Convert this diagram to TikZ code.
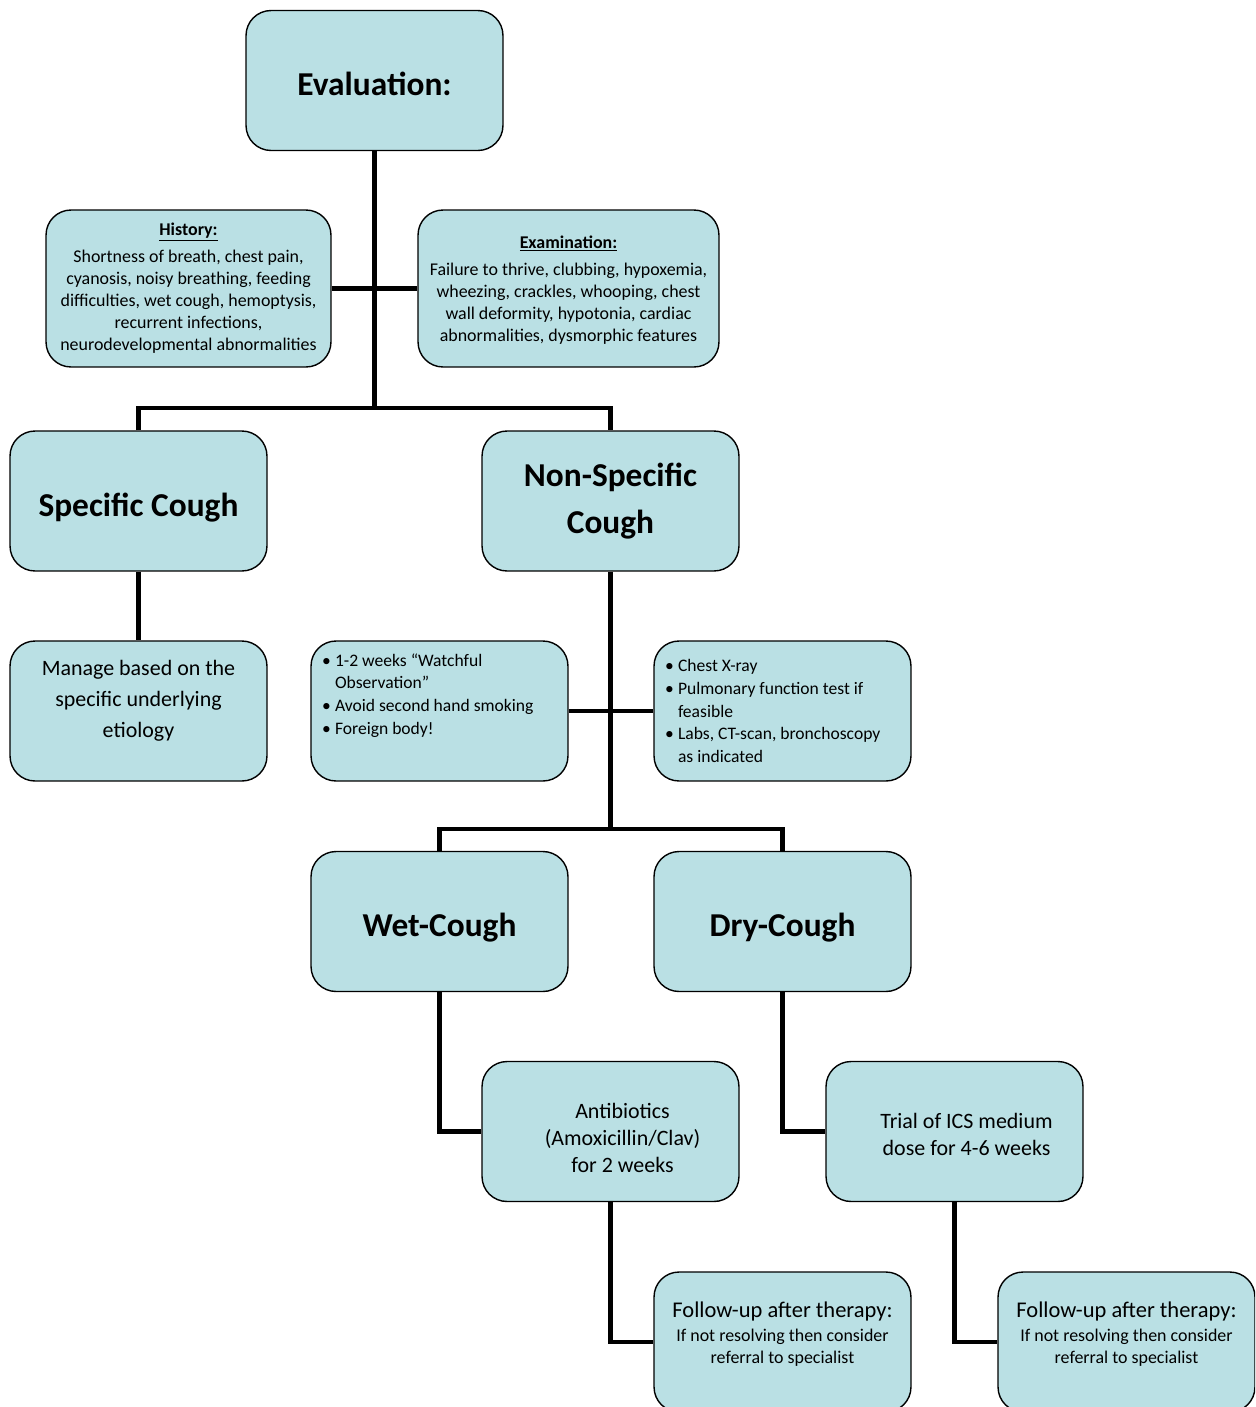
\documentclass[tikz,border=0pt]{standalone}
\usepackage{fontspec}
\setmainfont{Carlito}
\definecolor{boxfill}{RGB}{186,224,228}
\tikzstyle{box}=[draw,rounded corners=0.5cm,fill=boxfill,line width=0.8pt,minimum width=5.14cm,minimum height=2.8cm,align=center,inner sep=0pt]
\tikzstyle{wire}=[line width=2.3pt]
\tikzstyle{bigtext}=[font=\fontsize{19}{26.7}\selectfont\bfseries]
\tikzstyle{titletext}=[bigtext,text height=17.2pt,text depth=0pt]
\tikzstyle{midtext}=[font=\fontsize{12.5}{15.4}\selectfont,text width=4.9cm,align=flush center]
\tikzstyle{smalltext}=[font=\fontsize{10.2}{12.5}\selectfont]
\tikzstyle{listbox}=[box,text width=4.7cm,align=flush left,font=\fontsize{10}{12.9}\selectfont]
\newcommand{\bitem}{\noindent\hangindent=7.4pt\hangafter=1\makebox[7.4pt][l]{\textbullet}}
\newcommand{\pad}{\hspace*{13.7pt}}

\begin{document}
\begin{tikzpicture}[x=0.02cm,y=-0.02cm]
\useasboundingbox (0,0) rectangle (1255,1407);
\clip (0,0) rectangle (1255,1407);

\node[box,titletext] (eval) at (374.5,80.5) {Evaluation:};
\node[box,smalltext,minimum width=5.7cm,minimum height=3.14cm,text width=5.6cm,align=flush center,text height=0pt,text depth=60.9pt] (hist) at (188.5,288.5)
{\underline{\textbf{History:}}\\[3pt] Shortness of breath, chest pain,\\ cyanosis, noisy breathing, feeding\\
difficulties, wet cough, hemoptysis,\\ recurrent infections,\\ neurodevelopmental abnormalities};
\node[box,smalltext,minimum width=6.02cm,minimum height=3.14cm,text width=5.9cm,align=flush center,text height=0pt,text depth=46pt] (exam) at (568.5,288.5)
{\underline{\textbf{Examination:}}\\[3pt] Failure to thrive, clubbing, hypoxemia,\\ wheezing, crackles, whooping, chest\\
wall deformity, hypotonia, cardiac\\ abnormalities, dysmorphic features};

\node[box,titletext] (spec) at (138.5,501) {Specific Cough};
\node[box,bigtext] (nonspec) at (610.5,501) {Non-Specific\\Cough};

\node[box,midtext,font=\fontsize{12.5}{17.6}\selectfont,text height=0pt,text depth=40pt] (manage) at (138.5,711)
{Manage based on the\\ specific underlying\\ etiology};
\node[listbox,text height=0pt,text depth=51.2pt] (watch) at (439.5,711)
{\bitem 1-2 weeks “Watchful\newline Observation”\par \bitem Avoid second hand smoking\par \bitem Foreign body!\par};
\node[listbox] (tests) at (782.5,711)
{\bitem Chest X-ray\par \bitem Pulmonary function test if\newline feasible\par \bitem Labs, CT-scan, bronchoscopy\newline as indicated\par};

\node[box,titletext] (wet) at (439.5,921.5) {Wet-Cough};
\node[box,titletext] (dry) at (782.5,921.5) {Dry-Cough};

\node[box,midtext,text depth=23.6pt] (anti) at (610.5,1131.5) {\pad Antibiotics\\\pad (Amoxicillin/Clav)\\\pad for 2 weeks};
\node[box,midtext,text depth=12.3pt] (ics) at (954.5,1131.5) {\pad Trial of ICS medium\\\pad dose for 4-6 weeks};

\node[box,smalltext,text width=5cm,align=flush center,text depth=37pt] (fu1) at (782.5,1342)
{{\fontsize{12.8}{14}\selectfont Follow-up after therapy:}\\[1pt] If not resolving then consider\\ referral to specialist};
\node[box,smalltext,text width=5cm,align=flush center,text depth=37pt] (fu2) at (1126.5,1342)
{{\fontsize{12.8}{14}\selectfont Follow-up after therapy:}\\[1pt] If not resolving then consider\\ referral to specialist};

\coordinate (split1) at (374.5,408);
\coordinate (split2) at (610.5,829);
\draw[wire] (eval.south) -- (split1);
\draw[wire] (hist.east) -- (exam.west);
\draw[wire] (spec.north) |- (split1) -| (nonspec.north);
\draw[wire] (spec.south) -- (manage.north);
\draw[wire] (nonspec.south) -- (split2);
\draw[wire] (watch.east) -- (tests.west);
\draw[wire] (wet.north) |- (split2) -| (dry.north);
\draw[wire] (wet.south) |- (anti.west);
\draw[wire] (anti.south) |- (fu1.west);
\draw[wire] (dry.south) |- (ics.west);
\draw[wire] (ics.south) |- (fu2.west);

\end{tikzpicture}
\end{document}
